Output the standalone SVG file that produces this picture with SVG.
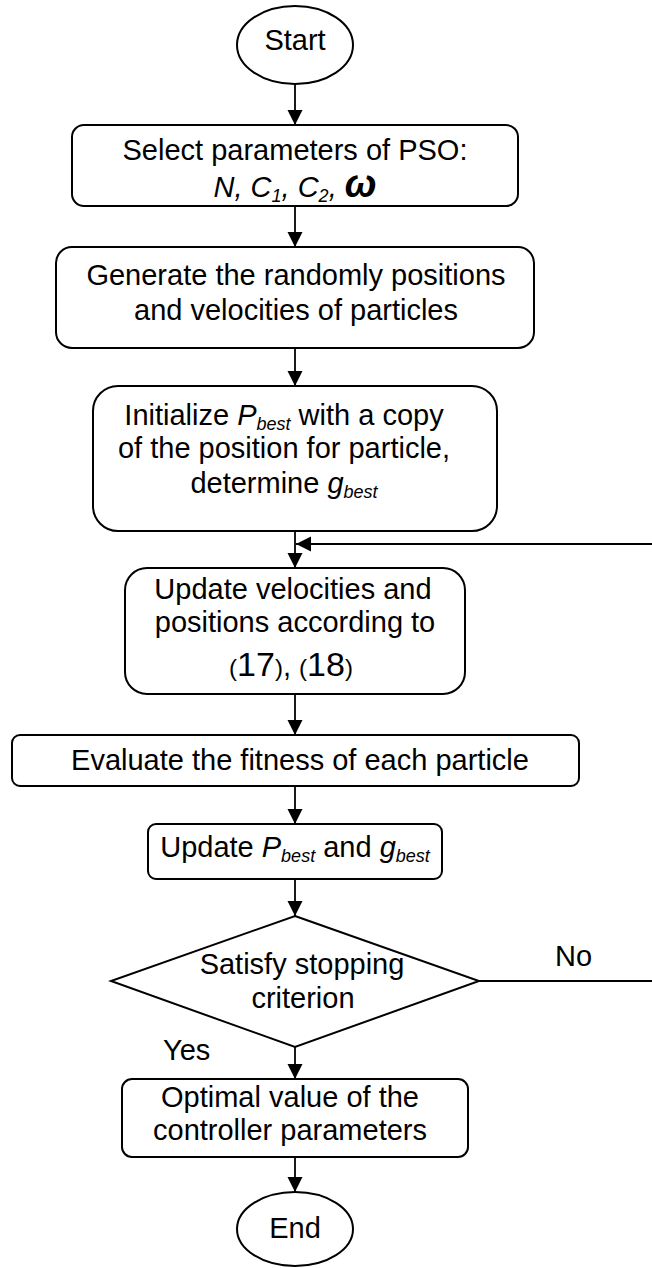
<svg xmlns="http://www.w3.org/2000/svg" width="652" height="1268" viewBox="0 0 652 1268">
<defs>
<style>
.shape{fill:#fff;stroke:#000;stroke-width:2}
.conn{fill:none;stroke:#000;stroke-width:1.8}
text{font-family:"Liberation Sans",Arial,sans-serif;font-size:29px;fill:#000}
.it{font-style:italic}
.sub{font-style:italic;font-size:18px}
</style>
<marker id="arr" markerUnits="userSpaceOnUse" markerWidth="16" markerHeight="16" refX="15" refY="7.5" orient="auto">
<path d="M0,0 L15,7.5 L0,15 Z" fill="#000"/>
</marker>
</defs>
<rect width="652" height="1268" fill="#fff"/>

<g id="connectors">
<line class="conn" x1="295" y1="84" x2="295" y2="125" marker-end="url(#arr)"/>
<line class="conn" x1="295" y1="206" x2="295" y2="247" marker-end="url(#arr)"/>
<line class="conn" x1="295" y1="348" x2="295" y2="386" marker-end="url(#arr)"/>
<line class="conn" x1="295" y1="531" x2="295" y2="568" marker-end="url(#arr)"/>
<line class="conn" x1="295" y1="694" x2="295" y2="735" marker-end="url(#arr)"/>
<line class="conn" x1="295" y1="786" x2="295" y2="824" marker-end="url(#arr)"/>
<line class="conn" x1="295" y1="879" x2="295" y2="916" marker-end="url(#arr)"/>
<line class="conn" x1="295" y1="1047" x2="295" y2="1079" marker-end="url(#arr)"/>
<line class="conn" x1="295" y1="1157" x2="295" y2="1192" marker-end="url(#arr)"/>
<path class="conn" d="M479,981 H662 V544 H296" marker-end="url(#arr)"/>
<text x="555" y="966">No</text>
<text x="163" y="1060">Yes</text>
</g>

<g id="start">
<ellipse class="shape" cx="295" cy="45" rx="58" ry="39"/>
<text x="295" y="50" text-anchor="middle">Start</text>
</g>

<g id="select">
<rect class="shape" x="72" y="125" width="446" height="81" rx="12"/>
<text x="295" y="160" text-anchor="middle">Select parameters of PSO:</text>
<text x="295" y="197" text-anchor="middle" class="it">N, C<tspan class="sub" dy="5">1</tspan><tspan dy="-5">, C</tspan><tspan class="sub" dy="5">2</tspan><tspan dy="-5">, </tspan><tspan font-size="38" font-weight="bold">ω</tspan></text>
</g>

<g id="generate">
<rect class="shape" x="56" y="247" width="478" height="101" rx="16"/>
<text x="296" y="285" text-anchor="middle">Generate the randomly positions</text>
<text x="296" y="320" text-anchor="middle">and velocities of particles</text>
</g>

<g id="initialize">
<rect class="shape" x="93" y="386" width="404" height="145" rx="25"/>
<text x="284" y="425" text-anchor="middle">Initialize <tspan class="it">P</tspan><tspan class="sub" dy="5">best</tspan><tspan dy="-5"> with a copy</tspan></text>
<text x="284" y="458" text-anchor="middle">of the position for particle,</text>
<text x="284" y="493" text-anchor="middle">determine <tspan class="it">g</tspan><tspan class="sub" dy="5">best</tspan></text>
</g>

<g id="update">
<rect class="shape" x="125" y="568" width="340" height="126" rx="22"/>
<text x="293" y="599" text-anchor="middle">Update velocities and</text>
<text x="295" y="632" text-anchor="middle">positions according to</text>
<text x="291" y="676" text-anchor="middle"><tspan font-size="24">(</tspan><tspan font-size="34">17</tspan><tspan font-size="24">)</tspan>, <tspan font-size="24">(</tspan><tspan font-size="34">18</tspan><tspan font-size="24">)</tspan></text>
</g>

<g id="evaluate">
<rect class="shape" x="12" y="735" width="567" height="51" rx="8"/>
<text x="300" y="770" text-anchor="middle">Evaluate the fitness of each particle</text>
</g>

<g id="updatebest">
<rect class="shape" x="148" y="824" width="294" height="55" rx="8"/>
<text x="295" y="857" text-anchor="middle">Update <tspan class="it">P</tspan><tspan class="sub" dy="5">best</tspan><tspan dy="-5"> and </tspan><tspan class="it">g</tspan><tspan class="sub" dy="5">best</tspan></text>
</g>

<g id="decision">
<polygon class="shape" points="295,916 479,981 295,1047 111,981"/>
<text x="302" y="974" text-anchor="middle">Satisfy stopping</text>
<text x="303" y="1008" text-anchor="middle">criterion</text>
</g>

<g id="optimal">
<rect class="shape" x="122" y="1079" width="346" height="78" rx="10"/>
<text x="290" y="1107" text-anchor="middle">Optimal value of the</text>
<text x="290" y="1140" text-anchor="middle">controller parameters</text>
</g>

<g id="end">
<ellipse class="shape" cx="295" cy="1229" rx="58" ry="37"/>
<text x="295" y="1238" text-anchor="middle">End</text>
</g>
</svg>
